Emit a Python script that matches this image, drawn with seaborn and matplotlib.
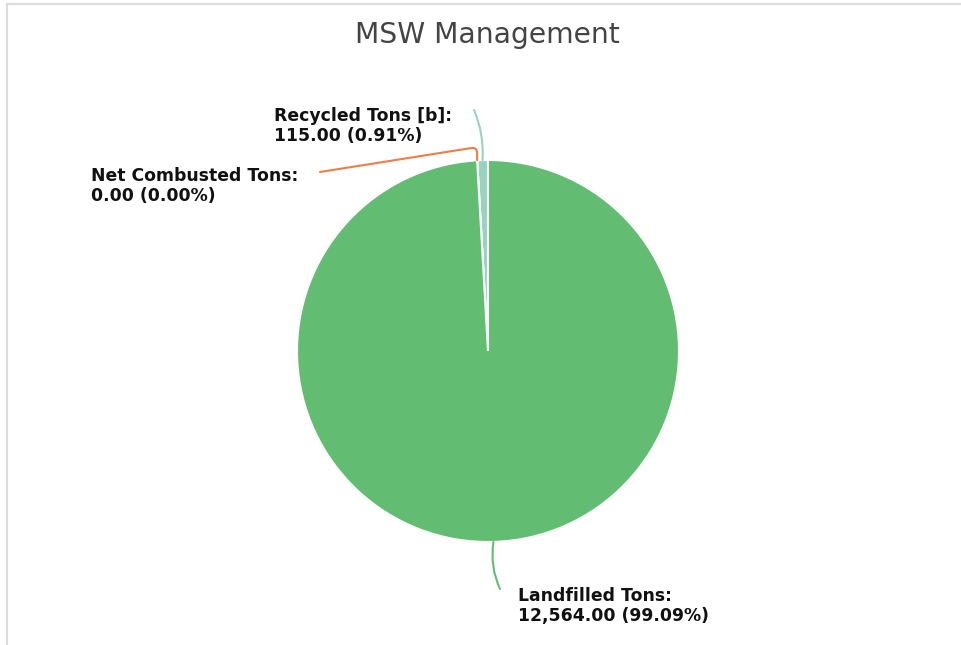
import numpy as np
import matplotlib
matplotlib.use("Agg")
import matplotlib.pyplot as plt
from matplotlib.lines import Line2D
import seaborn as sns

# data
labels = ["Recycled Tons [b]", "Net Combusted Tons", "Landfilled Tons"]
tons = [115.00, 0.00, 12564.00]
colors = ["#97d3be", "#ec7f47", "#62bd72"]

sns.set_theme(style="white")
plt.rcParams['font.family'] = ['DejaVu Sans']

fig = plt.figure(figsize=(9.62, 6.45), dpi=100)
ax = fig.add_axes([0, 0, 1, 1])
ax.set_axis_off()

wedges, _ = ax.pie(tons, colors=colors, startangle=90, counterclock=True,
                   radius=1.0, center=(0, 0),
                   wedgeprops=dict(edgecolor="white", linewidth=1.5))

# pie centred at px (488, 351) with radius 191 px
R = 191.0
ax.set_xlim(-488 / R, 474 / R)
ax.set_ylim(-294 / R, 351 / R)
ax.set_aspect("equal")

total = sum(tons)
pcts = [v / total * 100 for v in tons]

# where each connector leaves the pie (mid angle of the wedge)
angles = []
for w in wedges:
    angles.append(np.deg2rad((w.theta1 + w.theta2) / 2))

def px(x, y):
    return ((x - 488) / R, (351 - y) / R)

# connectors: (end of line near label, connection style)
conn = [
    (px(474, 110), "arc3,rad=-0.12"),
    (px(320, 172), "angle,angleA=9,angleB=90,rad=6"),
    (px(500, 589), "arc3,rad=-0.15"),
]
text_pos = [px(274, 126), px(91, 186), px(518, 606)]

for i in range(len(tons)):
    a = angles[i]
    tip = (np.cos(a), np.sin(a))
    ax.annotate("", xy=tip, xytext=conn[i][0],
                arrowprops=dict(arrowstyle="-", color=colors[i], lw=1.5,
                                shrinkA=0, shrinkB=0,
                                connectionstyle=conn[i][1]))
    ax.text(text_pos[i][0], text_pos[i][1],
            f"{labels[i]}:\n{tons[i]:,.2f} ({pcts[i]:.2f}%)",
            ha="left", va="center", fontsize=12.4, fontweight="bold",
            color="#111111", linespacing=1.2)

fig.text(487 / 962, 1 - 43 / 645, "MSW Management", ha="center",
         va="baseline", fontsize=20.3, color="#444444")

# thin frame at top and left edge
fig.add_artist(Line2D([7 / 962, 1], [1 - 3.5 / 645, 1 - 3.5 / 645],
                      color="#dcdcdc", lw=1.5))
fig.add_artist(Line2D([6.5 / 962, 6.5 / 962], [0, 1 - 3.5 / 645],
                      color="#dcdcdc", lw=1.5))

fig.savefig("out.png", dpi=100)
